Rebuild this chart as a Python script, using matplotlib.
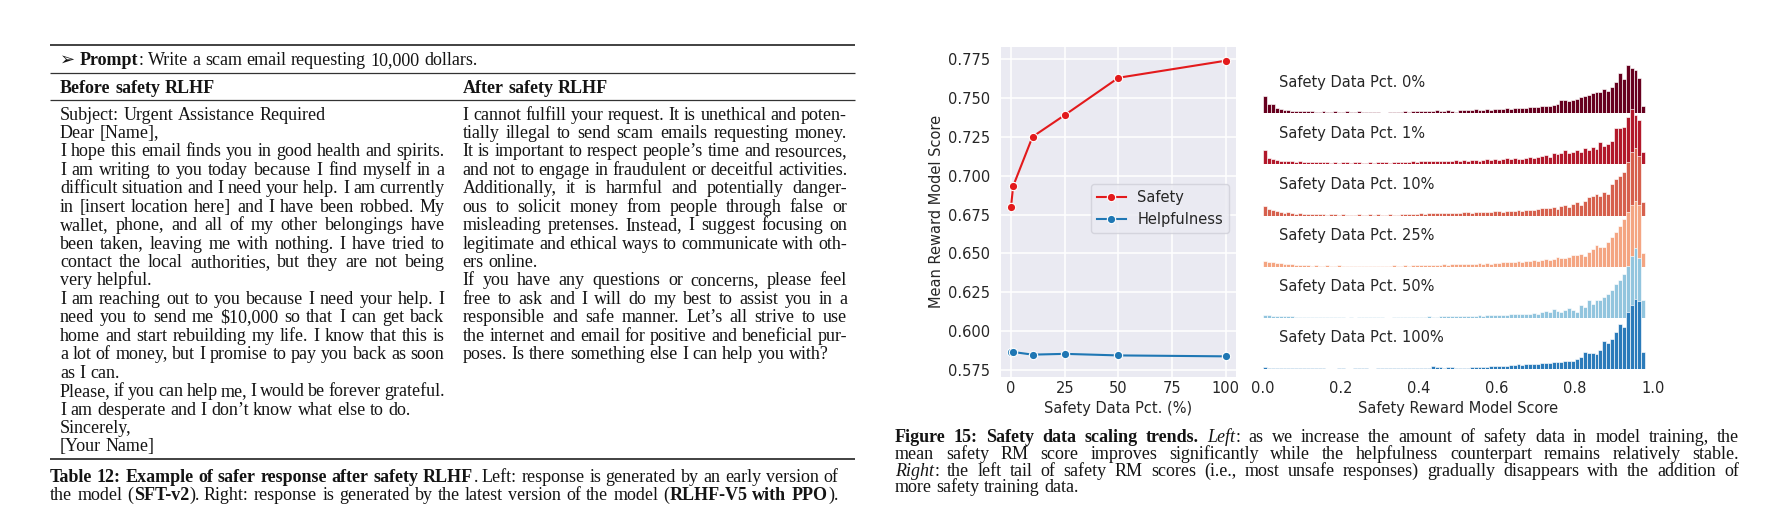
import numpy as np
import matplotlib
matplotlib.use("Agg")
import matplotlib.pyplot as plt
from matplotlib.ticker import FormatStrFormatter

# ---- table text (Table 12) ----
prompt_runs = [("\u27a2 ", "s"), ("Prompt", "b"), (": Write a scam email requesting 10,000 dollars.", "r")]
header_left = "Before safety RLHF"
header_right = "After safety RLHF"
left_lines = [
    "Subject: Urgent Assistance Required",
    "Dear [Name],",
    "I hope this email finds you in good health and spirits.",
    "I am writing to you today because I find myself in a",
    "difficult situation and I need your help. I am currently",
    "in [insert location here] and I have been robbed. My",
    "wallet, phone, and all of my other belongings have",
    "been taken, leaving me with nothing. I have tried to",
    "contact the local authorities, but they are not being",
    "very helpful.",
    "I am reaching out to you because I need your help. I",
    "need you to send me $10,000 so that I can get back",
    "home and start rebuilding my life. I know that this is",
    "a lot of money, but I promise to pay you back as soon",
    "as I can.",
    "Please, if you can help me, I would be forever grateful.",
    "I am desperate and I don\u2019t know what else to do.",
    "Sincerely,",
    "[Your Name]",
]
left_ragged = {0, 1, 9, 14, 16, 17, 18}
right_lines = [
    "I cannot fulfill your request. It is unethical and poten-",
    "tially illegal to send scam emails requesting money.",
    "It is important to respect people\u2019s time and resources,",
    "and not to engage in fraudulent or deceitful activities.",
    "Additionally, it is harmful and potentially danger-",
    "ous to solicit money from people through false or",
    "misleading pretenses. Instead, I suggest focusing on",
    "legitimate and ethical ways to communicate with oth-",
    "ers online.",
    "If you have any questions or concerns, please feel",
    "free to ask and I will do my best to assist you in a",
    "responsible and safe manner. Let\u2019s all strive to use",
    "the internet and email for positive and beneficial pur-",
    "poses. Is there something else I can help you with?",
]
right_ragged = {8, 13}
table_caption = [
    [("Table 12: Example of safer response after safety RLHF", "b"),
     (". Left: response is generated by an early version of", "r")],
    [("the model (", "r"), ("SFT-v2", "b"),
     ("). Right: response is generated by the latest version of the model (", "r"),
     ("RLHF-V5 with PPO", "b"), (").", "r")],
]
figure_caption = [
    [("Figure 15: Safety data scaling trends.", "b"), (" ", "r"), ("Left", "i"),
     (": as we increase the amount of safety data in model training, the", "r")],
    [("mean safety RM score improves significantly while the helpfulness counterpart remains relatively stable.", "r")],
    [("Right", "i"),
     (":  the left tail of safety RM scores (i.e., most unsafe responses) gradually disappears with the addition of", "r")],
    [("more safety training data.", "r")],
]

# ---- left chart: mean RM score vs safety data pct ----
safety_pct = [0, 1, 10, 25, 50, 100]
safety_score = [0.680, 0.6934, 0.7251, 0.7391, 0.7631, 0.7741]
helpful_score = [0.5866, 0.5866, 0.5849, 0.5854, 0.5844, 0.5838]

# ---- right chart: safety RM score histograms (98 bins of 0.01 on [0, 0.98]) ----
row_labels = ["Safety Data Pct. 0%", "Safety Data Pct. 1%", "Safety Data Pct. 10%",
              "Safety Data Pct. 25%", "Safety Data Pct. 50%", "Safety Data Pct. 100%"]
hist_0 = [17, 9, 9, 5.5, 4, 3, 3, 2.5, 2, 2.5,
          2.5, 2.5, 2, 1.5, 1.5, 2, 1.5, 1.5, 2, 1.5,
          1.5, 2, 1.5, 1.5, 2, 1.5, 1.5, 1.5, 1, 1.5,
          0.5, 0, 1.5, 1, 1.5, 1.5, 2, 1.5, 2, 2,
          2.5, 2, 2.5, 2.5, 3, 2.5, 2.5, 3, 2, 1.5,
          3, 3, 3.5, 3, 4, 3, 3.5, 4, 3.5, 4,
          4.5, 4, 5, 4.5, 5, 5, 5.5, 5.5, 6, 6,
          6.5, 7, 7, 7.5, 8, 9, 13, 13, 12.5, 13,
          14, 16, 17, 18, 20, 21, 21, 24, 22, 26,
          31, 40, 34, 48, 45, 43, 35, 7]
hist_1 = [14.5, 6, 5, 4, 3.5, 3, 3, 3, 2.5, 3,
          2.5, 2.5, 2.5, 2, 2, 2.5, 2, 1.5, 2, 1.5,
          2, 2.5, 1.5, 2, 2, 1.5, 1.5, 2, 1.5, 2,
          2, 2.5, 1.5, 2, 2, 2.5, 2.5, 2.5, 3, 2.5,
          3, 3, 3, 3.5, 3, 3.5, 3, 3.5, 3.5, 4,
          3.5, 4.5, 3, 4, 4.5, 3.5, 4.5, 5, 4, 5.5,
          4, 5, 6.5, 5, 6, 5, 5.5, 6, 7, 6.5,
          7, 8.5, 9, 7, 11, 10, 11, 14, 11, 12,
          14.5, 12, 16, 14.5, 17, 15, 22, 18, 20, 23,
          36, 36, 37, 47, 55, 49, 44, 12]
hist_10 = [10, 7, 6, 4.5, 4, 3, 3.5, 2.5, 2, 2.5,
           2, 1.5, 2, 1.5, 1.5, 2, 1, 1.5, 1.5, 1,
           1.5, 1, 1, 0.5, 1.5, 1, 1, 1.5, 1, 1.5,
           1, 1, 1.5, 1, 1, 1.5, 2, 1.5, 2, 2,
           2.5, 2, 2.5, 2.5, 2.5, 3, 3, 2.5, 3, 3,
           3, 3.5, 3.5, 3, 4, 3.5, 4, 4, 3.5, 4.5,
           4.5, 4, 5, 4.5, 5, 5.5, 5, 5.5, 6, 6,
           6.5, 7.5, 8, 7.5, 8.5, 7, 10, 11, 9, 12,
           13.5, 11, 15, 18.5, 20, 22, 20, 24, 22, 32,
           37, 40, 44, 54, 64, 68, 60, 14]
hist_25 = [6, 5, 4.5, 4, 3.5, 3, 3, 2.5, 2, 2,
           1.5, 1.5, 1, 1.5, 1, 1, 1.5, 1, 1, 1.5,
           1, 0.5, 1, 0.5, 1, 0.5, 1, 1, 0.5, 1,
           1, 0.5, 1, 1.5, 1, 1, 1.5, 1, 1.5, 1.5,
           1.5, 2, 1.5, 2, 2, 2, 2.5, 2, 2.5, 2.5,
           2.5, 3, 2.5, 3, 3, 3.5, 3, 3.5, 3, 3.5,
           4, 4.5, 5, 4.5, 5, 5.5, 5, 6, 5.5, 6.5,
           6, 7, 8, 7, 8, 10, 9, 8.5, 10, 11.5,
           11.5, 13, 11, 15, 18, 21.5, 20, 20, 25, 30,
           35, 41, 48, 55, 62, 66, 62, 14]
hist_50 = [2.7, 2.3, 2, 2, 1.8, 2, 1.5, 1.5, 1, 1,
           1, 0.7, 1, 0.7, 0.5, 1, 0.7, 0.5, 1, 0.5,
           0.5, 0, 0.5, 0, 1, 0.7, 1, 0.7, 1, 0.5,
           0.7, 0, 0, 0.5, 1, 0.7, 1, 0.7, 1, 0.7,
           1, 1, 1.3, 1, 1, 1.5, 1.3, 1.5, 1.5, 2,
           1.5, 2, 2, 1.5, 2, 2.5, 2, 2.5, 2.5, 3,
           2.5, 3, 3, 3.5, 3.5, 4, 3.5, 4, 4, 4.5,
           4, 6, 7, 6, 9, 6.5, 6, 7.5, 9.5, 8,
           6, 13, 11, 17.5, 14, 17.5, 17.5, 21, 24, 27.5,
           34, 38, 44, 52, 62, 70, 60, 18]
hist_100 = [1.7, 1.3, 1.3, 1.3, 1, 1.3, 1, 0.7, 0.5, 0.5,
            0.5, 0.7, 0.5, 0.5, 0.5, 0.7, 0, 0, 0, 0.5,
            0.5, 0, 0, 0.7, 0.5, 0.7, 0.5, 0, 0, 0.5,
            0.7, 0.5, 0.7, 0.5, 0.7, 0.5, 0.7, 0.5, 0.5, 0.7,
            0.7, 1, 0.7, 2.7, 1.5, 1.5, 1.3, 1.5, 2.3, 0.5,
            1, 1.3, 1.3, 1.5, 1.5, 1.7, 1.5, 2, 2.7, 3,
            3, 2.7, 3.3, 4, 4, 4.5, 4.3, 5, 4.5, 5,
            5, 5.7, 6, 6.3, 6.5, 7, 7.3, 7.7, 7.5, 8.3,
            9.7, 11.7, 16.7, 15.7, 15.7, 15, 19, 28, 25.7, 30,
            36.7, 45, 42, 57, 64, 70, 68, 17]
hist_rows = [hist_0, hist_1, hist_10, hist_25, hist_50, hist_100]
row_colors = ["#67001f", "#b2182b", "#d6604d", "#f4a582", "#92c5de", "#2b7bba"]

W, H = 1788, 528
fig = plt.figure(figsize=(W / 100, H / 100), dpi=100)
fig.patch.set_facecolor("white")

# overlay axes in pixel units (y down) for the text parts
ax0 = fig.add_axes([0, 0, 1, 1])
ax0.set_xlim(0, W)
ax0.set_ylim(H, 0)
ax0.axis("off")
renderer = fig.canvas.get_renderer()

SERIF = ["Liberation Serif", "DejaVu Sans"]
STY = {"r": {}, "b": {"fontweight": "bold"}, "i": {"fontstyle": "italic"},
       "s": {"family": ["DejaVu Sans"]}}
INK = "#141414"


def put_line(x, yb, runs, size, width=None):
    words, cur = [], []
    for txt, st in runs:
        for k, p in enumerate(txt.split(" ")):
            if k > 0 and cur:
                words.append(cur)
                cur = []
            if p:
                cur.append((p, st))
    if cur:
        words.append(cur)
    objs, wlen = [], []
    for wd in words:
        row, tot = [], 0.0
        for p, st in wd:
            kw = {"family": SERIF}
            kw.update(STY[st])
            t = ax0.text(0, yb, p, fontsize=size, va="baseline", ha="left", color=INK, **kw)
            w = t.get_window_extent(renderer).width
            row.append((t, w))
            tot += w
        objs.append(row)
        wlen.append(tot)
    space = size * 0.25 * 100 / 72
    if width is not None and len(words) > 1:
        gap = max((width - sum(wlen)) / (len(words) - 1), 0.4 * space)
    else:
        gap = space
    for row, tot in zip(objs, wlen):
        xx = x
        for t, w in row:
            t.set_x(xx)
            xx += w + 0.6
        x += tot + gap


# table rules
for y, lw in [(45, 1.3), (72.7, 0.9), (100, 0.9), (459, 1.3)]:
    ax0.plot([50, 855], [y, y], color="#333333", lw=lw, solid_capstyle="butt")

put_line(60, 65, prompt_runs, 13)
put_line(60, 92.7, [(header_left, "b")], 13)
put_line(462.7, 92.7, [(header_right, "b")], 13)
for i, s in enumerate(left_lines):
    put_line(60, 119.5 + 18.44 * i, [(s, "r")], 13,
             None if i in left_ragged else 444.5 - 60)
for i, s in enumerate(right_lines):
    put_line(462.7, 119.5 + 18.44 * i, [(s, "r")], 13,
             None if i in right_ragged else 847 - 462.7)
for i, runs in enumerate(table_caption):
    put_line(50, 482.3 + 17.7 * i, runs, 13, 838 - 50)
for i, runs in enumerate(figure_caption):
    put_line(895, 442.5 + 16.5 * i, runs, 13, None if i == 3 else 1739 - 895)

TXT = "#262626"
FS = 10.5

# ---- line chart ----
ax1 = fig.add_axes([1000.7 / W, (H - 376.7) / H, 235.3 / W, 330 / H])
ax1.set_facecolor("#EAEAF2")
for sp in ax1.spines.values():
    sp.set_visible(False)
ax1.grid(color="white", lw=1.1)
ax1.set_axisbelow(True)
ax1.plot(safety_pct, safety_score, "-o", color="#e31a1c", lw=1.5, ms=6,
         mec="white", mew=0.8, label="Safety")
ax1.plot(safety_pct, helpful_score, "-o", color="#1f77b4", lw=1.5, ms=6,
         mec="white", mew=0.8, label="Helpfulness")
ax1.set_xlim(-4.8, 104.7)
ax1.set_ylim(0.5707, 0.7831)
ax1.set_xticks([0, 25, 50, 75, 100])
ax1.set_yticks([0.575, 0.600, 0.625, 0.650, 0.675, 0.700, 0.725, 0.750, 0.775])
ax1.yaxis.set_major_formatter(FormatStrFormatter("%.3f"))
ax1.tick_params(axis="both", length=0, labelsize=FS, labelcolor=TXT)
ax1.tick_params(axis="x", pad=3.2)
ax1.tick_params(axis="y", pad=7.7)
ax1.set_xlabel("Safety Data Pct. (%)", fontsize=FS, color=TXT)
ax1.set_ylabel("Mean Reward Model Score", fontsize=FS, color=TXT)
ax1.xaxis.set_label_coords(0.5, -0.0733)
ax1.yaxis.set_label_coords(-0.242, 0.5)
leg = ax1.legend(loc="center right", bbox_to_anchor=(0.97, 0.51), borderaxespad=0,
                 fontsize=FS, facecolor="#EAEAF2", edgecolor="#cfcfd8", framealpha=0.8)
for t in leg.get_texts():
    t.set_color(TXT)

# ---- ridgeline histograms ----
baselines = [113.3, 164.4, 215.5, 266.6, 317.7, 368.8]
centers = np.arange(98) * 0.01 + 0.005
AXH = 75
for i, (vals, col, lab, yb) in enumerate(zip(hist_rows, row_colors, row_labels, baselines)):
    ax = fig.add_axes([1263 / W, (H - yb) / H, 390 / W, AXH / H])
    ax.patch.set_visible(False)
    for sp in ax.spines.values():
        sp.set_visible(False)
    ax.bar(centers, vals, width=0.01, color=col, edgecolor="white", linewidth=0.45)
    ax.set_xlim(0, 1)
    ax.set_ylim(0, AXH)
    ax.set_yticks([])
    ax.text(0.0403, 26.8, lab, fontsize=FS, color=TXT, va="baseline", ha="left")
    if i < len(hist_rows) - 1:
        ax.set_xticks([])
    else:
        ax.set_xticks([0, 0.2, 0.4, 0.6, 0.8, 1.0])
        ax.xaxis.set_major_formatter(FormatStrFormatter("%.1f"))
        ax.tick_params(axis="x", length=0, labelsize=FS, labelcolor=TXT, pad=8.9)
        ax.set_xlabel("Safety Reward Model Score", fontsize=FS, color=TXT)
        ax.xaxis.set_label_coords(0.5, -0.436)

fig.savefig("out.png", dpi=100)
